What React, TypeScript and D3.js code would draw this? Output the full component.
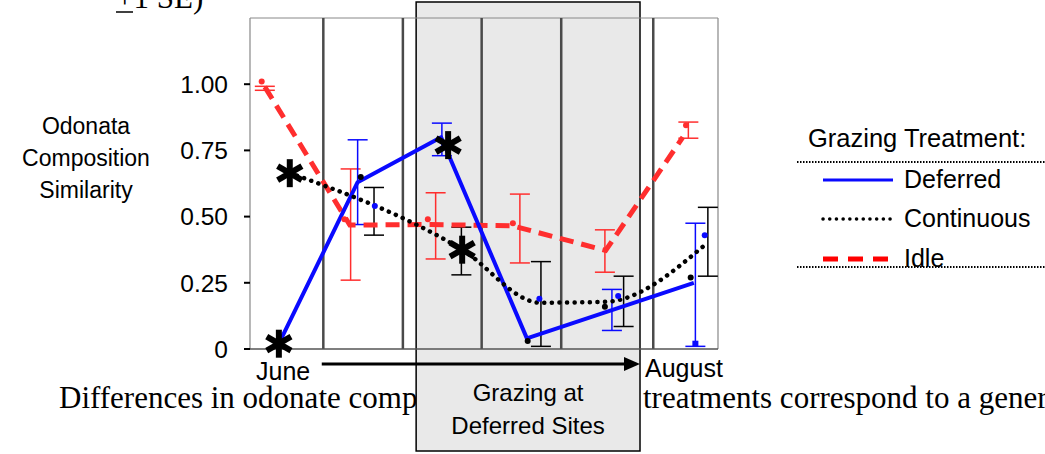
import React from "react";
import * as d3 from "d3";

// Sampling periods across the season (June -> August), in period units
const periodDividers = [0.94, 1.96, 2.97, 3.99, 5.17];
const grazingWindow = [2.13, 5.0];
const yTicks = [0, 0.25, 0.5, 0.75, 1.0];
const yTickLabels = ["0", "0.25", "0.50", "0.75", "1.00"];

// Line traces: [period, similarity]
const deferredLine: [number, number][] = [[0.37, 0.02], [1.38, 0.63], [2.45, 0.8], [3.55, 0.04], [5.69, 0.25]];
const continuousLine: [number, number][] = [[0.51, 0.665], [2.72, 0.375], [3.72, 0.175], [4.55, 0.178], [5.86, 0.4]];
const idleLine: [number, number][] = [[0.19, 0.99], [1.28, 0.468], [2.31, 0.47], [3.37, 0.465], [4.56, 0.372], [5.55, 0.8]];

// Error bars (±1 SE): [period, low, high]
const deferredSE: [number, number, number][] = [[1.38, 0.47, 0.79], [2.46, 0.73, 0.853], [4.64, 0.07, 0.225], [5.71, 0.01, 0.475]];
const continuousSE: [number, number, number][] = [[1.59, 0.43, 0.61], [2.71, 0.28, 0.46], [3.73, 0.01, 0.33], [4.79, 0.085, 0.275], [5.87, 0.275, 0.535]];
const idleSE: [number, number, number][] = [[0.19, 0.977, 0.992], [1.29, 0.26, 0.68], [2.38, 0.34, 0.59], [3.46, 0.325, 0.585], [4.55, 0.29, 0.45], [5.62, 0.796, 0.857]];

// Sample means: [period, similarity]
const deferredMeans: [number, number][] = [[1.6, 0.54], [3.71, 0.19], [4.72, 0.2], [5.83, 0.43]];
const continuousMeans: [number, number][] = [[1.42, 0.65], [3.56, 0.03], [4.55, 0.16], [5.65, 0.27]];
const idleMeans: [number, number][] = [[0.15, 1.01], [1.21, 0.49], [2.28, 0.49], [3.37, 0.475], [5.59, 0.845]];

// Significant differences among treatments
const significance: [number, number][] = [[0.37, 0.02], [0.51, 0.664], [2.54, 0.77], [2.72, 0.375]];

const legendItems = ["Deferred", "Continuous", "Idle"];

const BLUE = "#0a0aff";
const RED = "#ff2e2e";

const x = d3.scaleLinear().domain([0, 6]).range([250, 718]);
const y = d3.scaleLinear().domain([0, 1.25]).range([349, 18]);

const straight = d3.line<[number, number]>().x((d) => x(d[0])).y((d) => y(d[1]));
const smooth = d3
  .line<[number, number]>()
  .x((d) => x(d[0]))
  .y((d) => y(d[1]))
  .curve(d3.curveMonotoneX);

function ErrorBars({ data, color }: { data: [number, number, number][]; color: string }) {
  return (
    <g stroke={color} strokeWidth={1.5} fill="none">
      {data.map(([p, lo, hi], i) => (
        <g key={i}>
          <line x1={x(p)} x2={x(p)} y1={y(lo)} y2={y(hi)} />
          <line x1={x(p) - 10} x2={x(p) + 10} y1={y(lo)} y2={y(lo)} />
          <line x1={x(p) - 10} x2={x(p) + 10} y1={y(hi)} y2={y(hi)} />
        </g>
      ))}
    </g>
  );
}

function Means({ data, color }: { data: [number, number][]; color: string }) {
  return (
    <g fill={color}>
      {data.map(([p, v], i) => (
        <circle key={i} cx={x(p)} cy={y(v)} r={3} />
      ))}
    </g>
  );
}

function Asterisk({ cx, cy }: { cx: number; cy: number }) {
  const r = 14;
  const arms = [90, 30, 150].map((a) => (a * Math.PI) / 180);
  return (
    <g stroke="#000" strokeWidth={6}>
      {arms.map((a, i) => (
        <line
          key={i}
          x1={cx - r * Math.cos(a)}
          y1={cy - r * Math.sin(a)}
          x2={cx + r * Math.cos(a)}
          y2={cy + r * Math.sin(a)}
        />
      ))}
    </g>
  );
}

export default function App() {
  const sans = "Liberation Sans, Arial, sans-serif";
  const serif = "Liberation Serif, Times New Roman, serif";
  const [gx0, gx1] = grazingWindow;
  const legendY = [180, 219, 259];

  return (
    <svg
      width={1045}
      height={454}
      style={{ position: "absolute", left: 0, top: 0, background: "#fff" }}
      fontFamily={sans}
    >
      {/* running text of the page behind the figure */}
      <text x={116} y={8} fontFamily={serif} fontSize={31}>
        +1 SE)
      </text>
      <line x1={116} x2={133} y1={12} y2={12} stroke="#000" strokeWidth={1.5} />
      <text x={59} y={408} fontFamily={serif} fontSize={31}>
        Differences in odonate composition among
      </text>
      <text x={643} y={408} fontFamily={serif} fontSize={31}>
        treatments correspond to a general
      </text>

      {/* grazing window box */}
      <rect
        x={x(gx0)}
        y={2}
        width={x(gx1) - x(gx0)}
        height={449}
        fill="#e9e9e9"
        stroke="#000"
        strokeWidth={1.5}
      />

      {/* plot frame */}
      <g fill="none">
        <line x1={x(0)} x2={x(6)} y1={y(1.25)} y2={y(1.25)} stroke="#888" strokeWidth={1} />
        <line x1={x(0)} x2={x(0)} y1={y(1.25)} y2={y(0)} stroke="#888" strokeWidth={1.2} />
        <line x1={x(6)} x2={x(6)} y1={y(1.25)} y2={y(0)} stroke="#888" strokeWidth={1.2} />
        {periodDividers.map((p, i) => (
          <line key={i} x1={x(p)} x2={x(p)} y1={y(1.25)} y2={y(0)} stroke="#4a4a4a" strokeWidth={2.5} />
        ))}
        <line x1={x(0)} x2={x(6)} y1={y(0)} y2={y(0)} stroke="#555" strokeWidth={1.5} />
      </g>

      {/* y axis */}
      <g>
        {yTicks.map((t, i) => (
          <g key={i}>
            <line x1={244} x2={250} y1={y(t)} y2={y(t)} stroke="#000" strokeWidth={2} />
            <text x={228} y={y(t)} dy="0.36em" textAnchor="end" fontSize={24.5}>
              {yTickLabels[i]}
            </text>
          </g>
        ))}
      </g>
      <g fontSize={23} textAnchor="middle">
        <text x={86} y={134}>Odonata</text>
        <text x={86} y={166}>Composition</text>
        <text x={86} y={198}>Similarity</text>
      </g>

      {/* error bars */}
      <ErrorBars data={idleSE} color={RED} />
      <ErrorBars data={deferredSE} color={BLUE} />
      <ErrorBars data={continuousSE} color="#000" />

      {/* treatment lines */}
      <path d={straight(idleLine) || ""} fill="none" stroke={RED} strokeWidth={5} strokeDasharray="14 8" />
      <path d={straight(deferredLine) || ""} fill="none" stroke={BLUE} strokeWidth={4} strokeLinejoin="round" />
      <path
        d={smooth(continuousLine) || ""}
        fill="none"
        stroke="#000"
        strokeWidth={4.5}
        strokeLinecap="round"
        strokeDasharray="0.1 7.5"
      />

      <Means data={idleMeans} color={RED} />
      <Means data={deferredMeans} color={BLUE} />
      <Means data={continuousMeans} color="#000" />
      <rect x={x(5.71) - 3} y={y(0.02) - 3} width={6} height={6} fill={BLUE} />

      {significance.map(([p, v], i) => (
        <Asterisk key={i} cx={x(p)} cy={y(v)} />
      ))}

      {/* season arrow */}
      <line x1={x(0.92)} x2={x(5.0) - 14} y1={364} y2={364} stroke="#000" strokeWidth={3} />
      <path d={`M${x(5.0)},364 L${x(5.0) - 16},357 L${x(5.0) - 16},371 Z`} fill="#000" />
      <text x={256} y={380} fontSize={25}>June</text>
      <text x={645} y={377} fontSize={25}>August</text>

      <g fontSize={24} textAnchor="middle">
        <text x={(x(gx0) + x(gx1)) / 2} y={401}>Grazing at</text>
        <text x={(x(gx0) + x(gx1)) / 2} y={434}>Deferred Sites</text>
      </g>

      {/* legend */}
      <g>
        <text x={808} y={147} fontSize={25.5}>Grazing Treatment:</text>
        <line x1={797} x2={1045} y1={162} y2={162} stroke="#000" strokeWidth={2} strokeDasharray="1.5 1.5" />
        <line x1={797} x2={1045} y1={267} y2={267} stroke="#000" strokeWidth={2} strokeDasharray="1.5 1.5" />
        <line x1={823} x2={893} y1={legendY[0]} y2={legendY[0]} stroke={BLUE} strokeWidth={3} />
        <line
          x1={823}
          x2={891}
          y1={legendY[1]}
          y2={legendY[1]}
          stroke="#000"
          strokeWidth={3.5}
          strokeLinecap="round"
          strokeDasharray="0.1 6.6"
        />
        <line x1={823} x2={893} y1={legendY[2]} y2={legendY[2]} stroke="#ff0000" strokeWidth={5} strokeDasharray="15 10" />
        {legendItems.map((name, i) => (
          <text key={name} x={904} y={legendY[i] + 8} fontSize={25}>
            {name}
          </text>
        ))}
      </g>
    </svg>
  );
}
